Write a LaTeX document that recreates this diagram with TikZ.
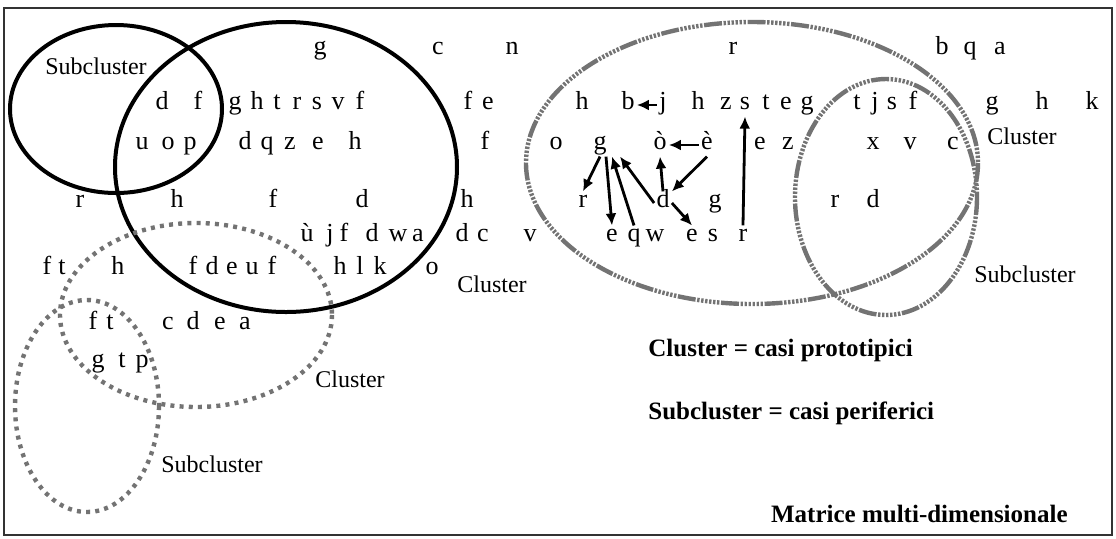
\documentclass[tikz,border=0pt]{standalone}
\usepackage{fontspec}
\setmainfont{Liberation Serif}
\usetikzlibrary{arrows.meta}

\tikzset{
  lt/.style={font=\fontsize{13}{15}\selectfont, text height=1.5ex, text depth=0.5ex, inner sep=1pt},
  word/.style={lt, font=\fontsize{12}{14}\selectfont},
  lab/.style={lt, font=\fontsize{12.5}{14}\selectfont\bfseries},
  arr/.style={-{Latex[length=6pt,width=5.5pt]}, line width=1.4pt},
  solidring/.style={line width=2pt},
  dotring/.style={line width=2.2pt, black!55, dash pattern=on 2pt off 2.6pt},
  dashring/.style={line width=2.2pt, black!55,
    dash pattern=on 9pt off 0.8pt on 1.2pt off 0.8pt on 1.2pt off 0.8pt on 1.2pt off 0.8pt
      on 1.2pt off 0.8pt on 1.2pt off 0.8pt on 1.2pt off 0.8pt},
}

\begin{document}
\begin{tikzpicture}[x=0.5pt,y=-0.5pt]
  \useasboundingbox (0,0) rectangle (1116,538);
  \draw[line width=1.1pt, black!80] (4,8) rectangle (1112,535);

  \draw[solidring] (116,109) ellipse [x radius=106, y radius=84];
  \draw[solidring] (286,167) ellipse [x radius=171, y radius=145];
  \draw[dotring] (196,315) ellipse [x radius=136, y radius=92];
  \draw[dotring] (87,406) ellipse [x radius=72, y radius=106];
  \draw[dashring] (752,163) ellipse [x radius=226, y radius=141];
  \draw[dashring] (886,197) ellipse [x radius=91, y radius=118];

  \foreach \x/\t [count=\i] in {320/g,438/c,512/n,733/r,942/b,970/q,1000/a}
    \node[lt] (ra\i) at (\x,50) {\t};
  \foreach \x/\t [count=\i] in {162/d,198/f,235/g,257/h,277/t,297/r,317/s,338/v,360/f,
      468/f,488/e,582/h,698/h,726/z,766/t,786/e,807/g,857/t,875/j,892/s,913/f,
      992/g,1042/h,1092/k}
    \node[lt] (rb\i) at (\x,105) {\t};
  \foreach \x/\t [count=\i] in {142/u,168/o,190/p,245/d,267/q,290/z,318/e,355/h,
      485/f,556/o,760/e,788/z,873/x,910/v,953/c}
    \node[lt] (rc\i) at (\x,145) {\t};
  \foreach \x/\t [count=\i] in {80/r,177/h,273/f,362/d,467/h,715/g,835/r,873/d}
    \node[lt] (rd\i) at (\x,203) {\t};
  \foreach \x/\t [count=\i] in {307/ù,330/j,344/f,372/d,398/w,418/a,462/d,483/c,
      530/v,655/w,713/s}
    \node[lt] (re\i) at (\x,237) {\t};
  \foreach \x/\t [count=\i] in {47/f,62/t,118/h,193/f,212/d,232/e,252/u,272/f,
      340/h,360/l,380/k,432/o}
    \node[lt] (rf\i) at (\x,270) {\t};
  \foreach \x/\t [count=\i] in {93/f,110/t,168/c,193/d,220/e,245/a}
    \node[lt] (rg\i) at (\x,325) {\t};
  \foreach \x/\t [count=\i] in {98/g,122/t,142/p}
    \node[lt] (rh\i) at (\x,363) {\t};

  \node[lt] (b1) at (628,105) {b};
  \node[lt] (j1) at (663,105) {j};
  \node[lt] (s1) at (745,105) {s};
  \node[lt] (g3) at (600,145) {g};
  \node[lt] (o3) at (660,145) {ò};
  \node[lt] (e3) at (707,145) {è};
  \node[lt] (r4) at (583,203) {r};
  \node[lt] (d4) at (663,203) {d};
  \node[lt] (e5) at (612,237) {e};
  \node[lt] (q5) at (634,237) {q};
  \node[lt] (e5b) at (692,237) {e};
  \node[lt] (r5) at (743,237) {r};

  \draw[arr] (j1.west) -- (b1.east);
  \draw[arr] (e3.west) -- (o3.east);
  \draw[arr] (g3.south) -- (r4.north);
  \draw[arr] ([xshift=3pt]g3.south) -- (e5.north);
  \draw[arr] (q5.north) -- ([xshift=6pt]g3.south);
  \draw[arr] (d4.west) -- ([xshift=10pt]g3.south);
  \draw[arr] (d4.north) -- (o3.south);
  \draw[arr] (e3.south) -- (d4.north east);
  \draw[arr] (d4.east) -- (e5b.north);
  \draw[arr] (r5.north) -- (s1.south);

  \node[word] (subA) at (96,70) {Subcluster};
  \node[word] (cluA) at (492,288) {Cluster};
  \node[word] (cluB) at (350,383) {Cluster};
  \node[word] (subB) at (212,468) {Subcluster};
  \node[word] (cluC) at (1022,140) {Cluster};
  \node[word] (subC) at (1025,278) {Subcluster};

  \node[lab, anchor=west] (leg1) at (646,352) {Cluster = casi prototipici};
  \node[lab, anchor=west] (leg2) at (646,415) {Subcluster = casi periferici};
  \node[lab, anchor=east] (title) at (1070,518) {Matrice multi-dimensionale};
\end{tikzpicture}
\end{document}
